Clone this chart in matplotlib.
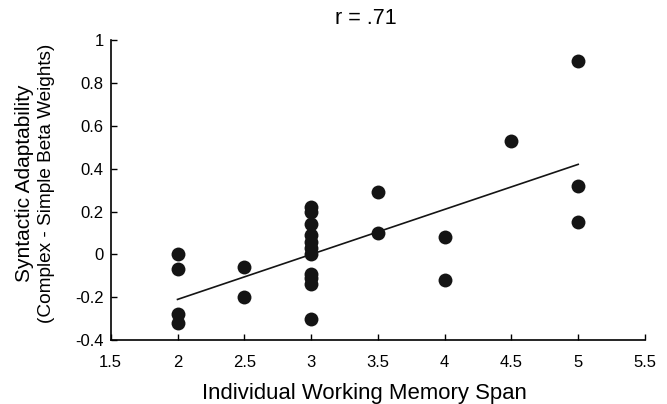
import matplotlib
matplotlib.use("Agg")
import matplotlib.pyplot as plt
import numpy as np

plt.rcParams['font.family'] = ['Liberation Sans', 'DejaVu Sans']

span = [2, 2, 2, 2,
        2.5, 2.5,
        3, 3, 3, 3, 3, 3, 3, 3, 3, 3, 3,
        3.5, 3.5,
        4, 4,
        4.5,
        5, 5, 5]
adapt = [0.0, -0.07, -0.28, -0.32,
         -0.06, -0.20,
         0.22, 0.20, 0.14, 0.09, 0.06, 0.03, 0.0, -0.09, -0.11, -0.14, -0.30,
         0.29, 0.10,
         0.08, -0.12,
         0.53,
         0.90, 0.32, 0.15]
fit_x = [2, 5]
fit_y = [-0.21, 0.42]
xticks = [1.5, 2, 2.5, 3, 3.5, 4, 4.5, 5, 5.5]
xticklabels = ['1.5', '2', '2.5', '3', '3.5', '4', '4.5', '5', '5.5']
yticks = [-0.4, -0.2, 0, 0.2, 0.4, 0.6, 0.8, 1]
yticklabels = ['-0.4', '-0.2', '0', '0.2', '0.4', '0.6', '0.8', '1']

fig = plt.figure(figsize=(6.67, 4.04), dpi=100)
ax = fig.add_axes([0.166, 0.158, 0.801, 0.743])
ax.scatter(span, adapt, s=100, color='#141414', zorder=3, linewidths=0)
ax.plot(fit_x, fit_y, color='#141414', lw=1.2, zorder=2)
ax.set_xlim(1.5, 5.5)
ax.set_ylim(-0.4, 1)
ax.set_xticks(xticks)
ax.set_xticklabels(xticklabels)
ax.set_yticks(yticks)
ax.set_yticklabels(yticklabels)
ax.tick_params(direction='in', length=4, labelsize=12, width=1)
ax.tick_params(axis='x', pad=11)
ax.tick_params(axis='y', pad=5)
for s in ['top', 'right']:
    ax.spines[s].set_visible(False)
for s in ['left', 'bottom']:
    ax.spines[s].set_linewidth(1.2)
fig.text(0.547, 0.027, 'Individual Working Memory Span', ha='center', va='center', fontsize=15.9)
fig.text(0.549, 0.955, 'r = .71', ha='center', va='center', fontsize=15.5)
fig.text(0.036, 0.547, 'Syntactic Adaptability', rotation=90, ha='center', va='center', fontsize=15)
fig.text(0.070, 0.547, '(Complex - Simple Beta Weights)', rotation=90, ha='center', va='center', fontsize=13.7)
fig.savefig('out.png', dpi=100)
